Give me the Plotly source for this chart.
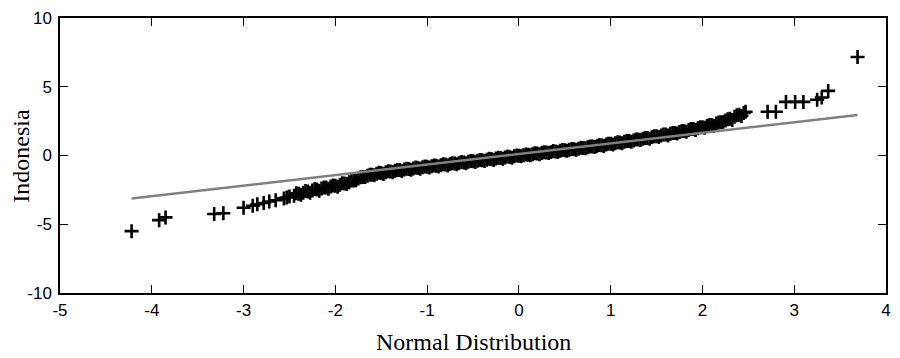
import plotly.graph_objects as go

# Outlier points (theoretical normal quantile, sample value)
tail_x = [-4.22, -3.92, -3.85, -3.32, -3.22, -3.00, -2.90, -2.85, -2.78, -2.72, -2.65,
          -2.56, -2.53, -2.50,
          2.47, 2.71, 2.80, 2.91, 3.01, 3.10, 3.25, 3.30, 3.37, 3.69]
tail_y = [-5.50, -4.70, -4.50, -4.25, -4.20, -3.80, -3.65, -3.55, -3.45, -3.35, -3.25,
          -3.12, -3.05, -2.98,
          3.18, 3.18, 3.18, 3.90, 3.90, 3.90, 4.05, 4.22, 4.70, 7.16]

# Dense central band
band_x = [-2.45, -2.40, -2.35, -2.30, -2.25, -2.20, -2.15, -2.10, -2.05, -2.00,
          -1.95, -1.90, -1.85, -1.80, -1.75, -1.70, -1.65, -1.60, -1.55, -1.50,
          -1.45, -1.40, -1.35, -1.30, -1.25, -1.20, -1.15, -1.10, -1.05, -1.00,
          -0.95, -0.90, -0.85, -0.80, -0.75, -0.70, -0.65, -0.60, -0.55, -0.50,
          -0.45, -0.40, -0.35, -0.30, -0.25, -0.20, -0.15, -0.10, -0.05, 0.00,
          0.05, 0.10, 0.15, 0.20, 0.25, 0.30, 0.35, 0.40, 0.45, 0.50,
          0.55, 0.60, 0.65, 0.70, 0.75, 0.80, 0.85, 0.90, 0.95, 1.00,
          1.05, 1.10, 1.15, 1.20, 1.25, 1.30, 1.35, 1.40, 1.45, 1.50,
          1.55, 1.60, 1.65, 1.70, 1.75, 1.80, 1.85, 1.90, 1.95, 2.00,
          2.05, 2.10, 2.15, 2.20, 2.25, 2.30, 2.35, 2.40, 2.45]
band_y = [-2.92, -2.78, -2.70, -2.62, -2.55, -2.48, -2.40, -2.33, -2.26, -2.20,
          -2.12, -2.04, -1.95, -1.82, -1.68, -1.57, -1.47, -1.40, -1.33, -1.27,
          -1.21, -1.16, -1.11, -1.06, -1.02, -0.98, -0.94, -0.90, -0.86, -0.82,
          -0.78, -0.74, -0.70, -0.66, -0.62, -0.58, -0.54, -0.50, -0.46, -0.42,
          -0.38, -0.34, -0.30, -0.26, -0.22, -0.18, -0.14, -0.10, -0.06, -0.02,
          0.02, 0.06, 0.10, 0.14, 0.18, 0.22, 0.26, 0.30, 0.34, 0.38,
          0.42, 0.46, 0.50, 0.55, 0.60, 0.65, 0.70, 0.75, 0.80, 0.85,
          0.90, 0.95, 1.00, 1.05, 1.10, 1.16, 1.22, 1.28, 1.34, 1.40,
          1.46, 1.52, 1.58, 1.64, 1.71, 1.78, 1.85, 1.92, 1.99, 2.06,
          2.14, 2.22, 2.32, 2.42, 2.55, 2.68, 2.82, 2.96, 3.10]

# Interleaved points of the dense band
band2_x = [-2.425, -2.375, -2.325, -2.275, -2.225, -2.175, -2.125, -2.075, -2.025, -1.975,
           -1.925, -1.875, -1.825, -1.775, -1.725, -1.675, -1.625, -1.575, -1.525, -1.475,
           -1.425, -1.375, -1.325, -1.275, -1.225, -1.175, -1.125, -1.075, -1.025, -0.975,
           -0.925, -0.875, -0.825, -0.775, -0.725, -0.675, -0.625, -0.575, -0.525, -0.475,
           -0.425, -0.375, -0.325, -0.275, -0.225, -0.175, -0.125, -0.075, -0.025, 0.025,
           0.075, 0.125, 0.175, 0.225, 0.275, 0.325, 0.375, 0.425, 0.475, 0.525,
           0.575, 0.625, 0.675, 0.725, 0.775, 0.825, 0.875, 0.925, 0.975, 1.025,
           1.075, 1.125, 1.175, 1.225, 1.275, 1.325, 1.375, 1.425, 1.475, 1.525,
           1.575, 1.625, 1.675, 1.725, 1.775, 1.825, 1.875, 1.925, 1.975, 2.025,
           2.075, 2.125, 2.175, 2.225, 2.275, 2.325, 2.375, 2.425]
band2_y = [-2.74, -2.86, -2.58, -2.70, -2.44, -2.56, -2.32, -2.42, -2.18, -2.28,
           -2.02, -2.08, -1.82, -1.80, -1.58, -1.56, -1.40, -1.44, -1.26, -1.34,
           -1.14, -1.22, -1.06, -1.12, -0.96, -1.04, -0.88, -0.96, -0.80, -0.88,
           -0.72, -0.80, -0.64, -0.72, -0.56, -0.64, -0.48, -0.56, -0.40, -0.48,
           -0.32, -0.40, -0.24, -0.32, -0.16, -0.24, -0.08, -0.16, 0.00, -0.06,
           0.08, 0.02, 0.16, 0.10, 0.24, 0.18, 0.32, 0.26, 0.40, 0.34,
           0.48, 0.42, 0.57, 0.52, 0.66, 0.62, 0.76, 0.70, 0.86, 0.80,
           0.96, 0.90, 1.06, 1.00, 1.16, 1.12, 1.28, 1.22, 1.40, 1.34,
           1.52, 1.46, 1.64, 1.60, 1.78, 1.72, 1.92, 1.86, 2.06, 2.02,
           2.22, 2.14, 2.40, 2.44, 2.64, 2.58, 2.92, 2.88]

# Reference line
ref_x = [-4.22, 3.69]
ref_y = [-3.13, 2.94]

x_ticks = [-5, -4, -3, -2, -1, 0, 1, 2, 3, 4]
y_ticks = [-10, -5, 0, 5, 10]
x_labels = [str(v) for v in x_ticks]
y_labels = [str(v) for v in y_ticks]

fig = go.Figure()
fig.add_trace(go.Scatter(
    x=band_x + band2_x + tail_x, y=band_y + band2_y + tail_y, mode="markers",
    marker=dict(symbol="cross-thin", size=10, line=dict(color="black", width=2.6)),
    showlegend=False, hoverinfo="skip"))
fig.add_trace(go.Scatter(
    x=ref_x, y=ref_y, mode="lines",
    line=dict(color="#808080", width=2.5),
    showlegend=False, hoverinfo="skip"))

axis_common = dict(
    showline=True, linecolor="black", linewidth=1.5, mirror="ticks",
    ticks="inside", ticklen=8, tickcolor="black", tickwidth=1,
    showgrid=False, zeroline=False,
    tickfont=dict(family="Liberation Sans, Arial", size=17, color="black"),
)

title_font = dict(family="Liberation Serif, Times New Roman", size=24, color="black")

fig.update_layout(
    width=900, height=358,
    margin=dict(l=60, r=9, t=16, b=65),
    paper_bgcolor="white", plot_bgcolor="white",
    xaxis=dict(range=[-5, 4], tickvals=x_ticks, ticktext=x_labels, ticklabelstandoff=1,
               **axis_common),
    yaxis=dict(range=[-10, 10], tickvals=y_ticks, ticktext=y_labels, ticklabelstandoff=3,
               **axis_common),
    annotations=[
        dict(text="Normal Distribution", xref="paper", yref="paper", x=0.5, y=0,
             xanchor="center", yanchor="middle", yshift=-49, showarrow=False,
             font=title_font),
        dict(text="Indonesia", xref="paper", yref="paper", x=-40 / 831, y=0.5,
             xanchor="center", yanchor="middle", textangle=-90, showarrow=False,
             font=title_font),
    ],
)

fig.write_html("out.html")
